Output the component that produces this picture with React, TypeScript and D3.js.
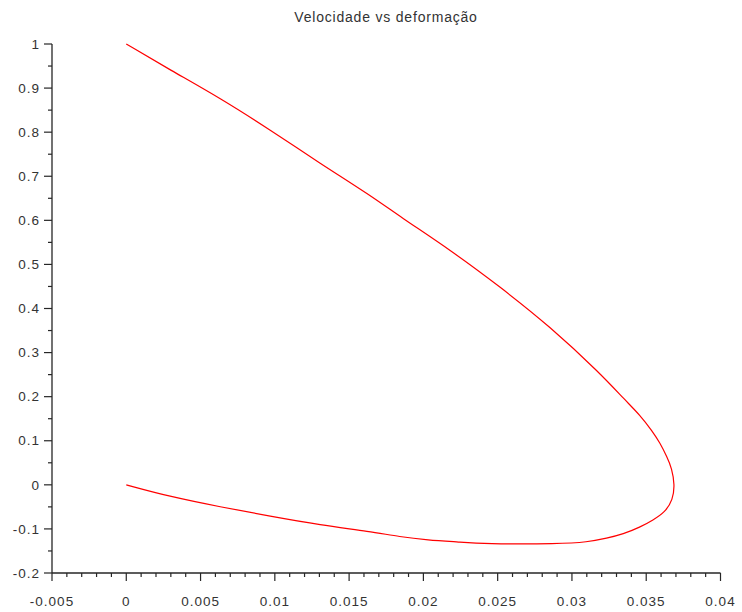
import React from "react";
import * as d3 from "d3";

const title = "Velocidade vs deformação";
// deformation (x) values along the trajectory
const deformacao = [
  0, 0.00296, 0.00633, 0.00969, 0.01305, 0.01642, 0.01844, 0.0218, 0.02517, 0.02853,
  0.0319, 0.03358, 0.03459, 0.0354, 0.03593, 0.0364, 0.03672, 0.03692,
  0.03679, 0.03627, 0.03546, 0.03459, 0.03344, 0.03237, 0.03102, 0.0292,
  0.02402, 0.02248, 0.02025, 0.01844, 0.01642, 0.01305, 0.00969, 0.00633, 0.00296, 0,
];
// velocity (y) values along the trajectory
const velocidade = [
  1.0, 0.941, 0.877, 0.805, 0.729, 0.657, 0.608, 0.533, 0.449, 0.359,
  0.253, 0.192, 0.158, 0.122, 0.095, 0.063, 0.038, 0.0,
  -0.034, -0.062, -0.08, -0.096, -0.112, -0.121, -0.13, -0.134,
  -0.134, -0.13, -0.125, -0.118, -0.106, -0.091, -0.071, -0.05, -0.027, 0,
];
const xTicks = [-0.005, 0, 0.005, 0.01, 0.015, 0.02, 0.025, 0.03, 0.035, 0.04];
const xTickLabels = ["-0.005", "0", "0.005", "0.01", "0.015", "0.02", "0.025", "0.03", "0.035", "0.04"];
const yTicks = [-0.2, -0.1, 0, 0.1, 0.2, 0.3, 0.4, 0.5, 0.6, 0.7, 0.8, 0.9, 1];
const yTickLabels = ["-0.2", "-0.1", "0", "0.1", "0.2", "0.3", "0.4", "0.5", "0.6", "0.7", "0.8", "0.9", "1"];

export default function App() {
  const W = 742, H = 612;
  const x = d3.scaleLinear().domain([-0.005, 0.04]).range([52, 720.5]);
  const y = d3.scaleLinear().domain([-0.2, 1]).range([573, 44]);
  const pts: [number, number][] = deformacao.map((d, i) => [d, velocidade[i]]);
  const line = d3
    .line<[number, number]>()
    .x((d) => x(d[0]))
    .y((d) => y(d[1]))
    .curve(d3.curveBasis);

  const xMinor: number[] = [];
  for (let i = 0; i < xTicks.length - 1; i++) {
    for (let k = 1; k < 5; k++) xMinor.push(xTicks[i] + (k * (xTicks[i + 1] - xTicks[i])) / 5);
  }
  const yMinor: number[] = [];
  for (let i = 0; i < yTicks.length - 1; i++) yMinor.push((yTicks[i] + yTicks[i + 1]) / 2);

  const axisColor = "#262626";
  const font = "'Liberation Sans', Arial, sans-serif";
  const x0 = x(-0.005), yBase = y(-0.2);

  return (
    <svg width={W} height={H} style={{ position: "absolute", left: 0, top: 0, background: "#fff" }}>
      <rect x={0} y={0} width={W} height={H} fill="#fff" />
      <text x={386} y={22} textAnchor="middle" fontFamily={font} fontSize={14} letterSpacing={0.8} fill="#333">
        {title}
      </text>
      {/* y axis */}
      <line x1={x0} x2={x0} y1={y(1)} y2={yBase} stroke={axisColor} strokeWidth={1.3} />
      {yTicks.map((t, i) => (
        <g key={"yt" + i}>
          <line x1={x0 - 8} x2={x0} y1={y(t)} y2={y(t)} stroke={axisColor} strokeWidth={1.2} />
          <text x={x0 - 12} y={y(t)} dy="0.35em" textAnchor="end" fontFamily={font} fontSize={13.5} letterSpacing={1} fill="#333">
            {yTickLabels[i]}
          </text>
        </g>
      ))}
      {yMinor.map((t, i) => (
        <line key={"ym" + i} x1={x0 - 4} x2={x0} y1={y(t)} y2={y(t)} stroke={axisColor} strokeWidth={1.2} />
      ))}
      {/* x axis */}
      <line x1={x0} x2={x(0.04)} y1={yBase} y2={yBase} stroke={axisColor} strokeWidth={1.3} />
      {xTicks.map((t, i) => (
        <g key={"xt" + i}>
          <line x1={x(t)} x2={x(t)} y1={yBase} y2={yBase + 8} stroke={axisColor} strokeWidth={1.2} />
          <text x={x(t)} y={606} textAnchor="middle" fontFamily={font} fontSize={13.5} letterSpacing={1} fill="#333">
            {xTickLabels[i]}
          </text>
        </g>
      ))}
      {xMinor.map((t, i) => (
        <line key={"xm" + i} x1={x(t)} x2={x(t)} y1={yBase} y2={yBase + 4} stroke={axisColor} strokeWidth={1.2} />
      ))}
      <path d={line(pts) || ""} fill="none" stroke="#ff0000" strokeWidth={1.2} />
    </svg>
  );
}
